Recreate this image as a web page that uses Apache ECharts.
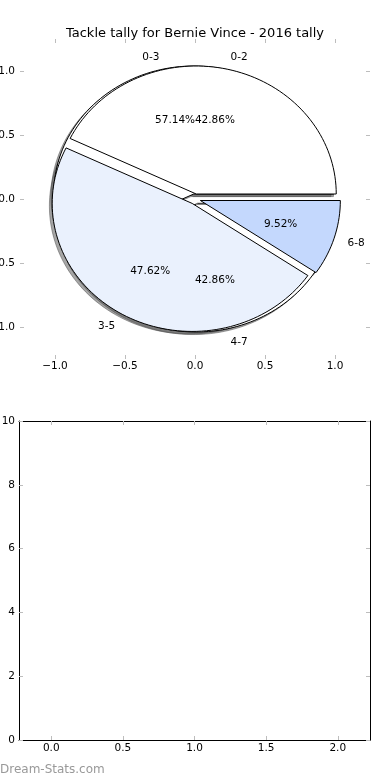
<!DOCTYPE html>
<html><head><meta charset="utf-8">
<script src="https://cdn.jsdelivr.net/npm/echarts@6/dist/echarts.min.js"></script>
<style>html,body{margin:0;padding:0;background:#fff}#c{width:390px;height:780px}</style>
</head><body><div id="c"></div>
<script>
const titleText = 'Tackle tally for Bernie Vince - 2016 tally';
const pieALabels = ['0-2', '3-5', '6-8'];
const pieAValues = [9, 10, 2];
const pieBLabels = ['0-3', '4-7'];
const pieBValues = [12, 9];
const pieTicks = [-1, -0.5, 0, 0.5, 1];
const lowerXTicks = [0, 0.5, 1, 1.5, 2];
const lowerYTicks = [0, 2, 4, 6, 8, 10];
const watermark = 'Dream-Stats.com';

const pieAColors = ['#ffffff', '#eaf1fd', '#c4d8fd'];
const pieBColors = ['#ffffff', '#ffffff'];
const EXPLODE = 0.04;
const FONT = '"DejaVu Sans", sans-serif';

function buildWedges(values, labels, colors) {
  const total = values.reduce((a, b) => a + b, 0);
  let cum = 0;
  return values.map((v, i) => {
    const t1 = 360 * cum / total; cum += v; const t2 = 360 * cum / total;
    const tm = (t1 + t2) / 2 * Math.PI / 180;
    return { t1, t2, tm, cx: EXPLODE * Math.cos(tm), cy: EXPLODE * Math.sin(tm),
      label: labels[i], pct: (100 * v / total).toFixed(2) + '%', color: colors[i] };
  });
}
const wedgesA = buildWedges(pieAValues, pieALabels, pieAColors);
const wedgesB = buildWedges(pieBValues, pieBLabels, pieBColors);
const allWedges = wedgesB.concat(wedgesA);

function wedgePts(w, api, ox, oy) {
  const pts = [api.coord([w.cx + ox, w.cy + oy])];
  const n = Math.max(8, Math.ceil((w.t2 - w.t1) / 2));
  for (let k = 0; k <= n; k++) {
    const a = (w.t1 + (w.t2 - w.t1) * k / n) * Math.PI / 180;
    pts.push(api.coord([w.cx + ox + Math.cos(a), w.cy + oy + Math.sin(a)]));
  }
  return pts;
}

function wedgeSeries(list, z, shadow) {
  return {
    type: 'custom', coordinateSystem: 'cartesian2d', xAxisIndex: 0, yAxisIndex: 0, z: z,
    silent: true, clip: false,
    data: list.map(() => [0, 0]),
    renderItem: function (params, api) {
      const w = list[params.dataIndex];
      if (shadow) {
        return { type: 'polygon', shape: { points: wedgePts(w, api, -0.02, -0.02) },
          style: { fill: 'rgba(77,77,77,0.5)', stroke: 'rgba(77,77,77,0.5)', lineWidth: 1 } };
      }
      return { type: 'polygon', shape: { points: wedgePts(w, api, 0, 0) },
        style: { fill: w.color, stroke: '#000', lineWidth: 1 } };
    }
  };
}

const textSeries = {
  type: 'custom', coordinateSystem: 'cartesian2d', xAxisIndex: 0, yAxisIndex: 0, z: 10,
  silent: true, clip: false,
  data: allWedges.map(() => [0, 0]),
  renderItem: function (params, api) {
    const w = allWedges[params.dataIndex];
    const lx = w.cx + 1.1 * Math.cos(w.tm), ly = w.cy + 1.1 * Math.sin(w.tm);
    const px = w.cx + 0.6 * Math.cos(w.tm), py = w.cy + 0.6 * Math.sin(w.tm);
    const lp = api.coord([lx, ly]), pp = api.coord([px, py]);
    return { type: 'group', children: [
      { type: 'text', x: lp[0], y: lp[1] + 1, style: { text: w.label, align: lx < 0 ? 'right' : 'left',
        verticalAlign: 'middle', font: '10.5px ' + FONT, fill: '#000' } },
      { type: 'text', x: pp[0], y: pp[1] + 1, style: { text: w.pct, align: 'center',
        verticalAlign: 'middle', font: '10.5px ' + FONT, fill: '#000' } }
    ] };
  }
};

const fmt1 = v => (v < 0 ? '\u2212' : '') + Math.abs(v).toFixed(1);
const tickGray = { color: '#bdbdbd', width: 1 };
const lblStyle = { fontFamily: FONT, fontSize: 10.5, color: '#000' };

function axis(kind, grid, pos, opts) {
  const o = {
    type: 'value', gridIndex: grid, position: pos,
    min: opts.min, max: opts.max, splitLine: { show: false },
    axisLine: { show: !!opts.line, onZero: false, lineStyle: { color: '#000', width: 1 } },
    axisTick: { show: true, inside: true, length: 4, lineStyle: tickGray, customValues: opts.ticks },
    axisLabel: { show: !!opts.labels, customValues: opts.ticks, formatter: opts.fmt,
      margin: opts.margin || 4, ...lblStyle }
  };
  if (opts.interval) o.interval = opts.interval;
  return o;
}

const chart = echarts.init(document.getElementById('c'), null, { renderer: 'canvas' });
chart.setOption({
  animation: false,
  backgroundColor: '#fff',
  title: { text: titleText, left: 'center', top: 22,
    textStyle: { fontFamily: FONT, fontSize: 13, fontWeight: 'normal', color: '#000' } },
  grid: [
    { left: 20, right: 20, top: 39, height: 320, containLabel: false, outerBoundsMode: 'none' },
    { left: 19, right: 20, top: 421, height: 319, containLabel: false, outerBoundsMode: 'none' }
  ],
  xAxis: [
    axis('x', 0, 'bottom', { min: -1.25, max: 1.25, ticks: pieTicks, labels: true, fmt: fmt1, margin: 2 }),
    axis('x', 0, 'top', { min: -1.25, max: 1.25, ticks: pieTicks }),
    axis('x', 1, 'bottom', { min: -0.225, max: 2.225, ticks: lowerXTicks, labels: true, fmt: fmt1, line: true, margin: 3 }),
    axis('x', 1, 'top', { min: -0.225, max: 2.225, ticks: lowerXTicks, line: true })
  ],
  yAxis: [
    axis('y', 0, 'left', { min: -1.25, max: 1.25, ticks: pieTicks, labels: true, fmt: fmt1, margin: 5 }),
    axis('y', 0, 'right', { min: -1.25, max: 1.25, ticks: pieTicks }),
    axis('y', 1, 'left', { min: 0, max: 10, ticks: lowerYTicks, labels: true, fmt: v => String(v), line: true, margin: 4 }),
    axis('y', 1, 'right', { min: 0, max: 10, ticks: lowerYTicks, line: true })
  ],
  graphic: [
    { type: 'text', left: 0, top: 764, z: 100,
      style: { text: watermark, font: '12px ' + FONT, fill: '#999999' } }
  ],
  series: [
    wedgeSeries(allWedges, 1, true),
    wedgeSeries(wedgesB, 2, false),
    wedgeSeries(wedgesA, 3, false),
    textSeries
  ]
});
</script>
</body></html>
